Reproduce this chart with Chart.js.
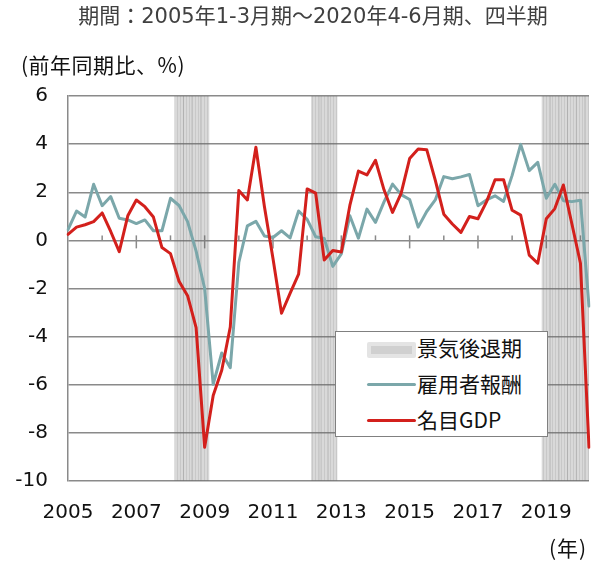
<!DOCTYPE html>
<html>
<head>
<meta charset="utf-8">
<script src="https://cdn.jsdelivr.net/npm/chart.js@4.4.1/dist/chart.umd.min.js"></script>
<style>
html,body{margin:0;padding:0;background:#fff;}
#wrap{position:relative;width:609px;height:562px;overflow:hidden;font-family:"DejaVu Sans","Noto Sans CJK JP",sans-serif;}
canvas{position:absolute;left:0;top:0;}
.t{position:absolute;white-space:nowrap;line-height:1;}
#title{left:0;width:626px;text-align:center;top:6px;font-size:21px;color:#404040;font-family:"DejaVu Sans","Noto Sans CJK JP",sans-serif;}
#unit{left:21px;top:54px;font-size:21px;color:#111;font-family:"Noto Sans CJK JP",sans-serif;letter-spacing:0.5px;}
#nen{left:549px;top:537px;font-size:21px;color:#111;font-family:"Noto Sans CJK JP",sans-serif;letter-spacing:1px;}
#legend{position:absolute;left:335px;top:331px;width:211px;height:104px;border:1.5px solid #808080;background:#fff;font-family:"Noto Sans CJK JP",sans-serif;}
#legend .lbl{position:absolute;left:81px;font-size:21px;color:#111;white-space:nowrap;line-height:1;}
#legend .sw{position:absolute;left:31px;width:49px;}
#legend .rec{top:10px;height:16px;background:#e4e4e4;border-radius:2px;}
#legend .rec i{position:absolute;left:4px;right:4px;top:4px;bottom:4px;background:#d0d0d0;}
#legend .ln{height:3px;border-radius:1.5px;}
</style>
</head>
<body>
<div id="wrap">
<canvas id="c" width="609" height="562"></canvas>
<div class="t" id="title">期間：2005年1-3月期～2020年4-6月期、四半期</div>
<div class="t" id="unit">(前年同期比、%)</div>
<div class="t" id="nen">(年)</div>
<div id="legend">
  <div class="sw rec"><i></i></div><div class="lbl" style="top:5px">景気後退期</div>
  <div class="sw ln" style="top:51px;background:#7ba7aa"></div><div class="lbl" style="top:41px">雇用者報酬</div>
  <div class="sw ln" style="top:87px;background:#d3201c"></div><div class="lbl" style="top:77px">名目GDP</div>
</div>
</div>
<script>
// ---- data ----
const years = ['2005','2006','2007','2008','2009','2010','2011','2012','2013','2014','2015','2016','2017','2018','2019','2020'];
const quarterNames = ['Q1','Q2','Q3','Q4'];
const xTickYears = ['2005','2007','2009','2011','2013','2015','2017','2019'];
const recessionQuarters = ['2008Q2','2008Q3','2008Q4','2009Q1','2012Q2','2012Q3','2012Q4',
  '2019Q1','2019Q2','2019Q3','2019Q4','2020Q1','2020Q2'];
// 雇用者報酬
const compensation = [0.45,1.22,0.97,2.33,1.44,1.82,0.92,0.85,0.70,0.85,0.40,0.40,
  1.75,1.45,0.78,-0.45,-2.00,-5.98,-4.68,-5.29,-0.92,0.60,0.79,0.18,
  0.12,0.40,0.10,1.22,0.87,0.15,0.08,-1.08,-0.56,1.02,0.09,1.30,
  0.75,1.60,2.34,1.90,1.70,0.55,1.20,1.68,2.65,2.56,2.64,2.74,
  1.44,1.68,1.85,1.62,2.70,3.99,2.90,3.24,1.75,2.33,1.65,1.61,1.67,-2.73];
// 名目GDP
const nominalGDP = [0.25,0.55,0.65,0.78,1.14,0.37,-0.47,1.02,1.68,1.40,0.97,-0.30,
  -0.55,-1.70,-2.30,-3.63,-8.60,-6.45,-5.40,-3.60,2.07,1.68,3.87,1.40,
  -0.75,-3.03,-2.20,-1.40,2.14,1.96,-0.82,-0.42,-0.48,1.45,2.88,2.72,
  3.33,2.10,1.16,1.95,3.40,3.80,3.77,2.50,1.09,0.68,0.33,0.99,
  0.90,1.60,2.52,2.52,1.25,1.05,-0.61,-0.95,0.90,1.32,2.30,0.68,-0.95,-8.60];
const yMin = -10, yMax = 6, yStep = 2;

// categories (quarters)
const categories = [];
years.forEach(y => quarterNames.forEach(q => categories.push(y + q)));
categories.length = compensation.length; // 2005Q1 .. 2020Q2
const recSet = new Set(recessionQuarters);
const recessionData = categories.map(c => recSet.has(c) ? [yMin, yMax] : null);
const tickLabels = categories.map(c => (c.endsWith('Q1') && xTickYears.includes(c.slice(0,4))) ? c.slice(0,4) : '');

// stripe pattern for recession shading
const pc = document.createElement('canvas'); pc.width = 3; pc.height = 4;
const pctx = pc.getContext('2d');
pctx.fillStyle = 'rgba(110,110,110,0.26)'; pctx.fillRect(0,0,3,4);
pctx.fillStyle = 'rgba(110,110,110,0.16)'; pctx.fillRect(0,0,1,4);
const stripe = document.getElementById('c').getContext('2d').createPattern(pc, 'repeat');

const GRID = '#8a8a8a';
const axisTicks = {
  id: 'axisTicks',
  beforeDatasetsDraw(chart) {
    const {ctx, scales: {x, y}} = chart;
    const y0 = y.getPixelForValue(0);
    ctx.save();
    ctx.strokeStyle = GRID; ctx.lineWidth = 1.5;
    for (let i = 4; i < categories.length; i += 4) {
      const px = x.getPixelForValue(i);
      ctx.beginPath();
      if (i % 8 === 0) { ctx.moveTo(px, y0 - 5); ctx.lineTo(px, y0 + 8); }
      else { ctx.moveTo(px, y0 - 5); ctx.lineTo(px, y0); }
      ctx.stroke();
    }
    ctx.restore();
  }
};

new Chart(document.getElementById('c'), {
  type: 'line',
  data: {
    labels: categories,
    datasets: [
      { type: 'bar', label: '景気後退期', data: recessionData, backgroundColor: stripe,
        borderWidth: 0, barPercentage: 1, categoryPercentage: 1, order: 3 },
      { label: '雇用者報酬', data: compensation, borderColor: '#7ba7aa', borderWidth: 3,
        pointRadius: 0, tension: 0, borderJoinStyle: 'round', borderCapStyle: 'round', order: 2 },
      { label: '名目GDP', data: nominalGDP, borderColor: '#d3201c', borderWidth: 3,
        pointRadius: 0, tension: 0, borderJoinStyle: 'round', borderCapStyle: 'round', order: 1 }
    ]
  },
  options: {
    responsive: false, animation: false, devicePixelRatio: 1,
    layout: { padding: { top: 96, right: 12, left: 0, bottom: 0 } },
    plugins: { legend: { display: false }, title: { display: false }, tooltip: { enabled: false } },
    scales: {
      x: {
        type: 'category', offset: false,
        grid: { display: false, drawTicks: false },
        border: { display: false },
        ticks: {
          autoSkip: false, maxRotation: 0, minRotation: 0, padding: 20,
          color: '#111', font: { family: 'DejaVu Sans', size: 20 },
          callback: (v, i) => tickLabels[i]
        },
        afterFit: s => { s.height = 81; }
      },
      y: {
        min: yMin, max: yMax,
        grid: { color: GRID, lineWidth: 1.5, drawTicks: false },
        border: { display: true, color: GRID, width: 1.5 },
        ticks: { stepSize: yStep, padding: 20, color: '#111', font: { family: 'DejaVu Sans', size: 20 } },
        afterFit: s => { s.width = 68; }
      }
    }
  },
  plugins: [axisTicks]
});
</script>
</body>
</html>
